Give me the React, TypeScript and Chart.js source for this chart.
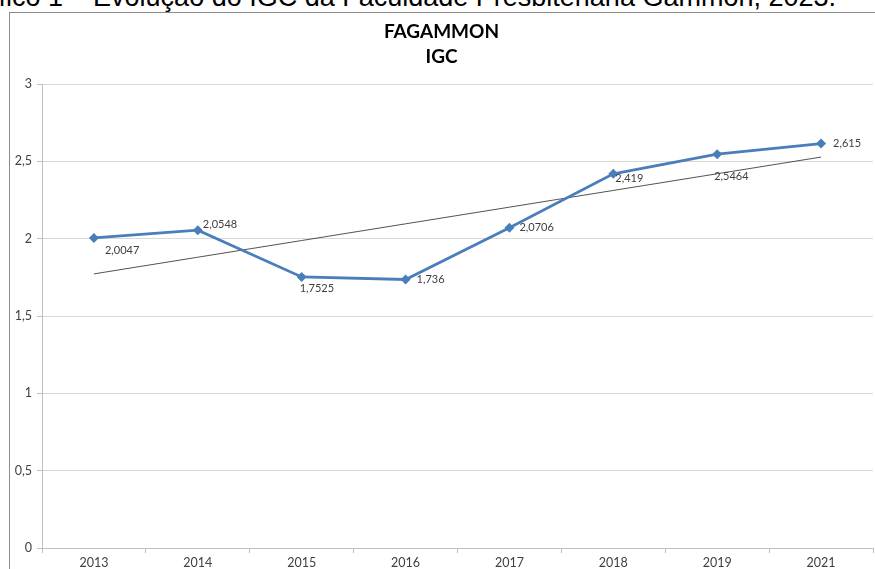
import React, { useEffect, useRef } from "react";
import { Chart, registerables } from "chart.js";

Chart.register(...registerables);

const categories = ["2013", "2014", "2015", "2016", "2017", "2018", "2019", "2021"];
const igcValues = [2.0047, 2.0548, 1.7525, 1.736, 2.0706, 2.419, 2.5464, 2.615];
const igcLabels = ["2,0047", "2,0548", "1,7525", "1,736", "2,0706", "2,419", "2,5464", "2,615"];
const yTicks = [0, 0.5, 1, 1.5, 2, 2.5, 3];
const titleLines = ["FAGAMMON", "IGC"];
const captionText = "Gráfico 1 – Evolução do IGC da Faculdade Presbiteriana Gammon, 2023.";

// linear trendline (least squares over category index), as in the spreadsheet chart
function linearTrend(values: number[]): number[] {
  const n = values.length;
  const mx = (n - 1) / 2;
  const my = values.reduce((a, b) => a + b, 0) / n;
  let sxy = 0;
  let sxx = 0;
  values.forEach((v, i) => {
    sxy += (i - mx) * (v - my);
    sxx += (i - mx) * (i - mx);
  });
  const slope = sxy / sxx;
  return values.map((_, i) => my + slope * (i - mx));
}

// label placement (style only): [dx to left edge, dy to middle]
const labelOffsets: [number, number][] = [
  [11, 13],
  [5, -6],
  [-2, 12],
  [11, 0],
  [10, 0],
  [2, 5],
  [-3, 22],
  [12, 0],
];

const dataLabelPlugin = {
  id: "dataLabels",
  afterDatasetsDraw(chart: any) {
    const meta = chart.getDatasetMeta(0);
    const ctx = chart.ctx;
    ctx.save();
    ctx.font = "11px Lato";
    ctx.fillStyle = "#404040";
    ctx.textAlign = "left";
    ctx.textBaseline = "middle";
    meta.data.forEach((pt: any, i: number) => {
      const [dx, dy] = labelOffsets[i];
      ctx.fillText(igcLabels[i], pt.x + dx, pt.y + dy);
    });
    ctx.restore();
  },
};

export default function App() {
  const ref = useRef<HTMLCanvasElement | null>(null);

  useEffect(() => {
    if (!ref.current) return;
    const chart = new Chart(ref.current, {
      type: "line",
      data: {
        labels: categories,
        datasets: [
          {
            label: "IGC",
            data: igcValues,
            borderColor: "#4A7EBB",
            backgroundColor: "#4A7EBB",
            borderWidth: 2.75,
            pointStyle: "rectRot",
            pointRadius: 5,
            pointBorderWidth: 0,
            pointBackgroundColor: "#4A7EBB",
            tension: 0,
            order: 1,
          },
          {
            label: "Linear (IGC)",
            data: linearTrend(igcValues),
            borderColor: "#404040",
            borderWidth: 0.9,
            pointRadius: 0,
            tension: 0,
            order: 2,
          },
        ],
      },
      options: {
        responsive: false,
        animation: false,
        layout: { padding: { left: 0, right: 11, top: 0, bottom: 15 } },
        plugins: {
          legend: { display: false },
          tooltip: { enabled: false },
          title: {
            display: true,
            text: titleLines,
            color: "#000000",
            font: { family: "Lato", size: 19, weight: "bold", lineHeight: 25 / 19 },
            padding: { top: 6, bottom: 15 },
          },
        },
        scales: {
          x: {
            offset: true,
            afterFit: (s: any) => {
              s.height = 30;
            },
            grid: {
              offset: true,
              drawOnChartArea: false,
              drawTicks: true,
              tickLength: 5,
              color: "#BFBFBF",
            },
            border: { display: true, color: "#BFBFBF", width: 1 },
            ticks: {
              color: "#404040",
              font: { family: "Lato", size: 12.5 },
              padding: 2,
              maxRotation: 0,
            },
          },
          y: {
            min: 0,
            max: 3,
            afterFit: (s: any) => {
              s.width = 32;
            },
            afterBuildTicks: (s: any) => {
              s.ticks = yTicks.map((v) => ({ value: v }));
            },
            grid: {
              color: "#D9D9D9",
              drawTicks: true,
              tickLength: 5,
              tickColor: "#BFBFBF",
            },
            border: { display: true, color: "#BFBFBF", width: 1 },
            ticks: {
              color: "#404040",
              font: { family: "Lato", size: 12.5 },
              padding: 5,
              callback: (v: any) => String(v).replace(".", ","),
            },
          },
        },
      },
      plugins: [dataLabelPlugin],
    });
    return () => chart.destroy();
  }, []);

  return (
    <div
      style={{
        position: "fixed",
        left: 0,
        top: 0,
        width: 875,
        height: 569,
        overflow: "hidden",
        background: "#ffffff",
      }}
    >
      <div
        style={{
          position: "absolute",
          right: 875 - 836,
          top: -16,
          whiteSpace: "nowrap",
          fontFamily: "'Liberation Sans', Arial, sans-serif",
          fontSize: 27,
          lineHeight: "27px",
          color: "#000000",
        }}
      >
        {captionText}
      </div>
      <div
        style={{
          position: "absolute",
          left: 9,
          top: 12,
          width: 876,
          height: 590,
          border: "1px solid #8C8C8C",
          boxSizing: "border-box",
          background: "#ffffff",
        }}
      >
        <canvas ref={ref} width={874} height={580} style={{ display: "block" }} />
      </div>
    </div>
  );
}
